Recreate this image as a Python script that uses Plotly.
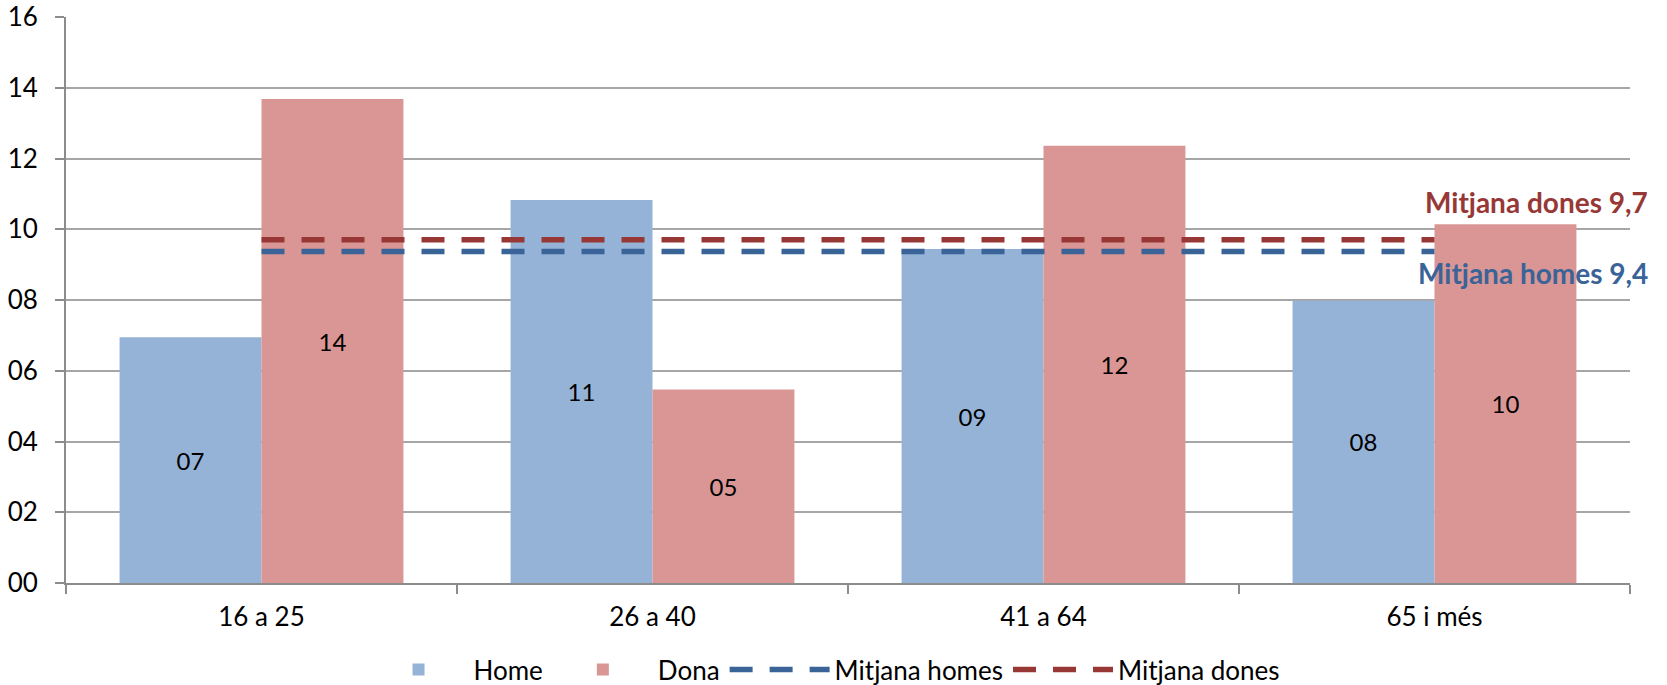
import plotly.graph_objects as go

categories = ["16 a 25", "26 a 40", "41 a 64", "65 i més"]
home_values = [6.95, 10.83, 9.44, 7.98]
dona_values = [13.68, 5.47, 12.36, 10.14]
mitjana_homes = 9.37
mitjana_dones = 9.70
y_ticks = [0, 2, 4, 6, 8, 10, 12, 14, 16]

FONT = "Lato"
BLUE_BAR = "#95B3D7"
RED_BAR = "#D99694"
BLUE_LINE = "#3A6398"
RED_LINE = "#973836"

fig = go.Figure()
fig.add_trace(go.Bar(
    name="Home", x=categories, y=home_values, marker_color=BLUE_BAR,
    texttemplate="%{y:02.0f}", textposition="inside", insidetextanchor="middle",
    textangle=0, textfont=dict(family=FONT, size=24, color="black"),
))
fig.add_trace(go.Bar(
    name="Dona", x=categories, y=dona_values, marker_color=RED_BAR,
    texttemplate="%{y:02.0f}", textposition="inside", insidetextanchor="middle",
    textangle=0, textfont=dict(family=FONT, size=24, color="black"),
))
fig.add_trace(go.Scatter(
    name="Mitjana homes", x=categories, y=[mitjana_homes] * len(categories),
    mode="lines", line=dict(color=BLUE_LINE, width=5.5, dash="23px,17px"),
))
fig.add_trace(go.Scatter(
    name="Mitjana dones", x=categories, y=[mitjana_dones] * len(categories),
    mode="lines", line=dict(color=RED_LINE, width=5.5, dash="23px,17px"),
))

fig.add_annotation(
    text="<b>Mitjana dones 9,7</b>", xref="paper", yref="y", x=1.0128, y=10.77,
    xanchor="right", yanchor="middle", showarrow=False,
    font=dict(family=FONT, size=28, color=RED_LINE),
)
fig.add_annotation(
    text="<b>Mitjana homes 9,4</b>", xref="paper", yref="y", x=1.0128, y=8.76,
    xanchor="right", yanchor="middle", showarrow=False,
    font=dict(family=FONT, size=28, color=BLUE_LINE),
)

fig.update_layout(
    template="none",
    width=1667, height=693,
    margin=dict(l=66, r=37, t=17, b=110),
    paper_bgcolor="white", plot_bgcolor="white",
    barmode="group", bargap=0.274, bargroupgap=0,
    font=dict(family=FONT, size=26, color="black"),
    showlegend=True,
    legend=dict(
        orientation="h", x=0.485, xanchor="center",
        yref="container", y=0, yanchor="bottom",
        font=dict(family=FONT, size=26, color="black"), traceorder="normal",
        itemwidth=100, bgcolor="rgba(0,0,0,0)",
    ),
)
fig.update_xaxes(
    type="category", showgrid=False, showline=True, linecolor="#8C8C8C", linewidth=2,
    ticks="outside", tickson="boundaries", ticklen=9, tickcolor="#8C8C8C", tickwidth=2,
    tickfont=dict(family=FONT, size=26, color="black"), ticklabelstandoff=10,
    automargin=False,
)
fig.update_yaxes(
    range=[0, 16], tickvals=y_ticks, tickformat="02d",
    showgrid=True, gridcolor="#A6A6A6", gridwidth=1.5,
    showline=True, linecolor="#8C8C8C", linewidth=2,
    ticks="outside", ticklen=9, tickcolor="#8C8C8C", tickwidth=2,
    tickfont=dict(family=FONT, size=26, color="black"), ticklabelstandoff=12,
    ticklabeloverflow="allow",
    zeroline=False, automargin=False,
)

fig.write_html(
    "out.html",
    config={"displayModeBar": False},
    post_script=(
        "document.body.style.margin='0px';"
        "document.body.style.overflow='hidden';"
        "document.documentElement.style.overflow='hidden';"
    ),
)
